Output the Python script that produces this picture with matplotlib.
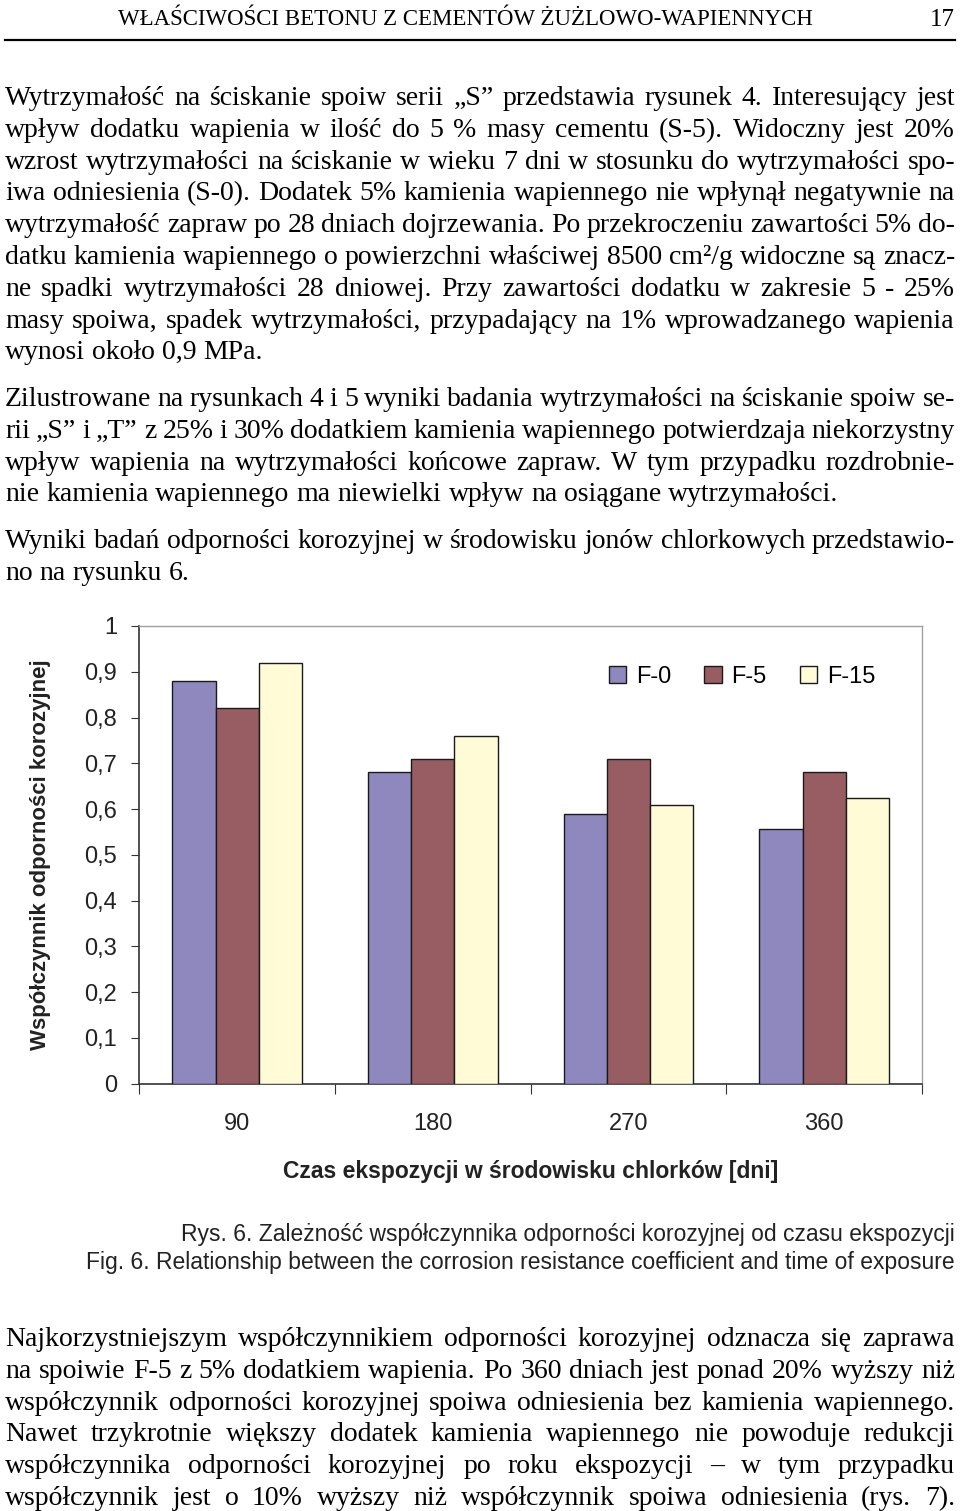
import numpy as np
import matplotlib
matplotlib.use('Agg')
import matplotlib.pyplot as plt
from matplotlib.patches import Patch

# page size in pixels
W, H = 960, 1511
L, R = 5, 955

# chart data
categories = ['90', '180', '270', '360']
series_names = ['F-0', 'F-5', 'F-15']
f0 = [0.88, 0.68, 0.59, 0.556]
f5 = [0.82, 0.71, 0.71, 0.68]
f15 = [0.92, 0.76, 0.61, 0.625]
colors = ['#8e88be', '#985d63', '#fffbd6']
y_ticks = [0, 0.1, 0.2, 0.3, 0.4, 0.5, 0.6, 0.7, 0.8, 0.9, 1.0]
y_labels = ['0', '0,1', '0,2', '0,3', '0,4', '0,5', '0,6', '0,7', '0,8', '0,9', '1']

header = 'WŁAŚCIWOŚCI BETONU Z CEMENTÓW ŻUŻLOWO-WAPIENNYCH'
page_no = '17'

para1 = [
    'Wytrzymałość na ściskanie spoiw  serii „S” przedstawia rysunek 4. Interesujący jest',
    'wpływ dodatku wapienia w ilość do 5 % masy cementu (S-5). Widoczny jest 20%',
    'wzrost wytrzymałości na ściskanie w wieku 7 dni w stosunku do wytrzymałości spo-',
    'iwa odniesienia (S-0). Dodatek 5% kamienia wapiennego nie wpłynął negatywnie na',
    'wytrzymałość zapraw po 28 dniach dojrzewania. Po przekroczeniu zawartości 5% do-',
    'datku kamienia wapiennego o powierzchni właściwej 8500 cm²/g widoczne są znacz-',
    'ne spadki wytrzymałości 28 dniowej. Przy zawartości dodatku w zakresie 5 - 25%',
    'masy spoiwa, spadek wytrzymałości, przypadający na 1% wprowadzanego wapienia',
    'wynosi około 0,9 MPa.',
]
para2 = [
    'Zilustrowane na rysunkach 4 i 5 wyniki badania wytrzymałości na ściskanie spoiw se-',
    'rii „S” i „T” z 25% i 30% dodatkiem kamienia wapiennego potwierdzaja niekorzystny',
    'wpływ wapienia na wytrzymałości końcowe zapraw. W tym przypadku rozdrobnie-',
    'nie kamienia wapiennego ma niewielki wpływ na osiągane wytrzymałości.',
]
para3 = [
    'Wyniki badań odporności korozyjnej w środowisku jonów chlorkowych przedstawio-',
    'no na rysunku 6.',
]
para4 = [
    'Najkorzystniejszym współczynnikiem odporności korozyjnej odznacza się zaprawa',
    'na spoiwie F-5 z 5% dodatkiem wapienia. Po 360 dniach jest ponad 20% wyższy niż',
    'współczynnik odporności korozyjnej spoiwa odniesienia bez kamienia wapiennego.',
    'Nawet trzykrotnie większy dodatek kamienia wapiennego nie powoduje redukcji',
    'współczynnika odporności korozyjnej po roku ekspozycji – w tym przypadku',
    'współczynnik jest o 10% wyższy niż współczynnik spoiwa odniesienia (rys. 7).',
]
caption_pl = 'Rys. 6. Zależność współczynnika odporności korozyjnej od czasu ekspozycji'
caption_en = 'Fig. 6. Relationship between the corrosion resistance coefficient and time of exposure'

fig = plt.figure(figsize=(W / 100, H / 100), dpi=100)
renderer = fig.canvas.get_renderer()
SERIF = 'Liberation Serif'
SANS = 'Liberation Sans'
BODY = 20
INK = '#222222'


def fx(x):
    return x / W


def fy(y):
    return 1 - y / H


def put_line(y, text, justify=True, size=BODY):
    # word-by-word placement so lines can be justified
    words = text.split()
    texts = [fig.text(0, fy(y), w, fontsize=size, family=SERIF, va='baseline')
             for w in words]
    widths = [t.get_window_extent(renderer).width for t in texts]
    space = size * 100 / 72 * 0.25
    n = len(words)
    if n > 1 and sum(widths) + 0.45 * space * (n - 1) > R - L:
        scale = (R - L - 0.45 * space * (n - 1)) / sum(widths)
        for t in texts:
            t.set_fontsize(size * scale)
        widths = [t.get_window_extent(renderer).width for t in texts]
    gap = (R - L - sum(widths)) / (n - 1) if (justify and n > 1) else space
    x = L
    for t, w in zip(texts, widths):
        t.set_x(fx(x))
        x += w + gap


def put_paragraph(y0, lines, last_justified=False, step=31.8):
    for i, line in enumerate(lines):
        last = i == len(lines) - 1
        put_line(y0 + i * step, line, justify=(not last) or last_justified)


# header
fig.text(fx(465), fy(25), header, fontsize=16.5, family=SERIF, ha='center', va='baseline')
fig.text(fx(955), fy(26), page_no, fontsize=18, family=SERIF, ha='right', va='baseline')
fig.add_artist(plt.Line2D([fx(5), fx(955)], [fy(40), fy(40)], color='black', lw=1.6))

put_paragraph(105, para1)
put_paragraph(406, para2)
put_paragraph(548, para3)
put_paragraph(1346, para4, last_justified=True)

# chart
ax = fig.add_axes([fx(139.3), fy(1083.7), (922 - 139.3) / W, (1083.7 - 626) / H])
x = np.arange(len(categories))
bw = 0.221
for k, (vals, col, name) in enumerate(zip([f0, f5, f15], colors, series_names)):
    ax.bar(x + (k - 1) * bw, vals, width=bw, color=col, edgecolor='#1a1a1a',
           linewidth=1.0, label=name, zorder=3)

ax.set_xlim(-0.5, len(categories) - 0.5)
ax.set_ylim(0, 1)
ax.set_yticks(y_ticks)
ax.set_yticklabels(y_labels, fontsize=17, family=SANS, color=INK)
ax.set_xticks(np.arange(len(categories) + 1) - 0.5)
ax.set_xticklabels([''] * (len(categories) + 1))
ax.set_xticks(x, minor=True)
ax.set_xticklabels(categories, minor=True, fontsize=17, family=SANS, color=INK)
ax.tick_params(axis='x', which='minor', length=0, pad=21)
ax.tick_params(axis='x', which='major', length=7, direction='out', color='#333333')
ax.tick_params(axis='y', length=6, direction='out', color='#333333', pad=10)
for s in ['left', 'bottom']:
    ax.spines[s].set_color('#333333')
    ax.spines[s].set_linewidth(1.2)
for s in ['top', 'right']:
    ax.spines[s].set_color('#a0a0a0')
    ax.spines[s].set_linewidth(1.0)

ax.set_ylabel('Współczynnik odporności korozyjnej', fontsize=16, fontweight='bold',
              family=SANS, color=INK, labelpad=24)
ax.set_xlabel('Czas ekspozycji w środowisku chlorków [dni]', fontsize=16.5, fontweight='bold',
              family=SANS, color=INK, labelpad=18)

handles = [Patch(facecolor=c, edgecolor='#1a1a1a', label=n) for c, n in zip(colors, series_names)]
ax.legend(handles=handles, ncol=3, loc='center', bbox_to_anchor=(0.77, 0.889),
          frameon=False, prop={'family': SANS, 'size': 17},
          handlelength=0.75, handleheight=0.75, columnspacing=1.4, handletextpad=0.4)

# caption
fig.text(fx(955), fy(1241), caption_pl, fontsize=16.5, family=SANS,
         ha='right', va='baseline', color=INK)
fig.text(fx(955), fy(1269), caption_en, fontsize=16.5, family=SANS,
         ha='right', va='baseline', color=INK)

fig.savefig('out.png', dpi=100)
